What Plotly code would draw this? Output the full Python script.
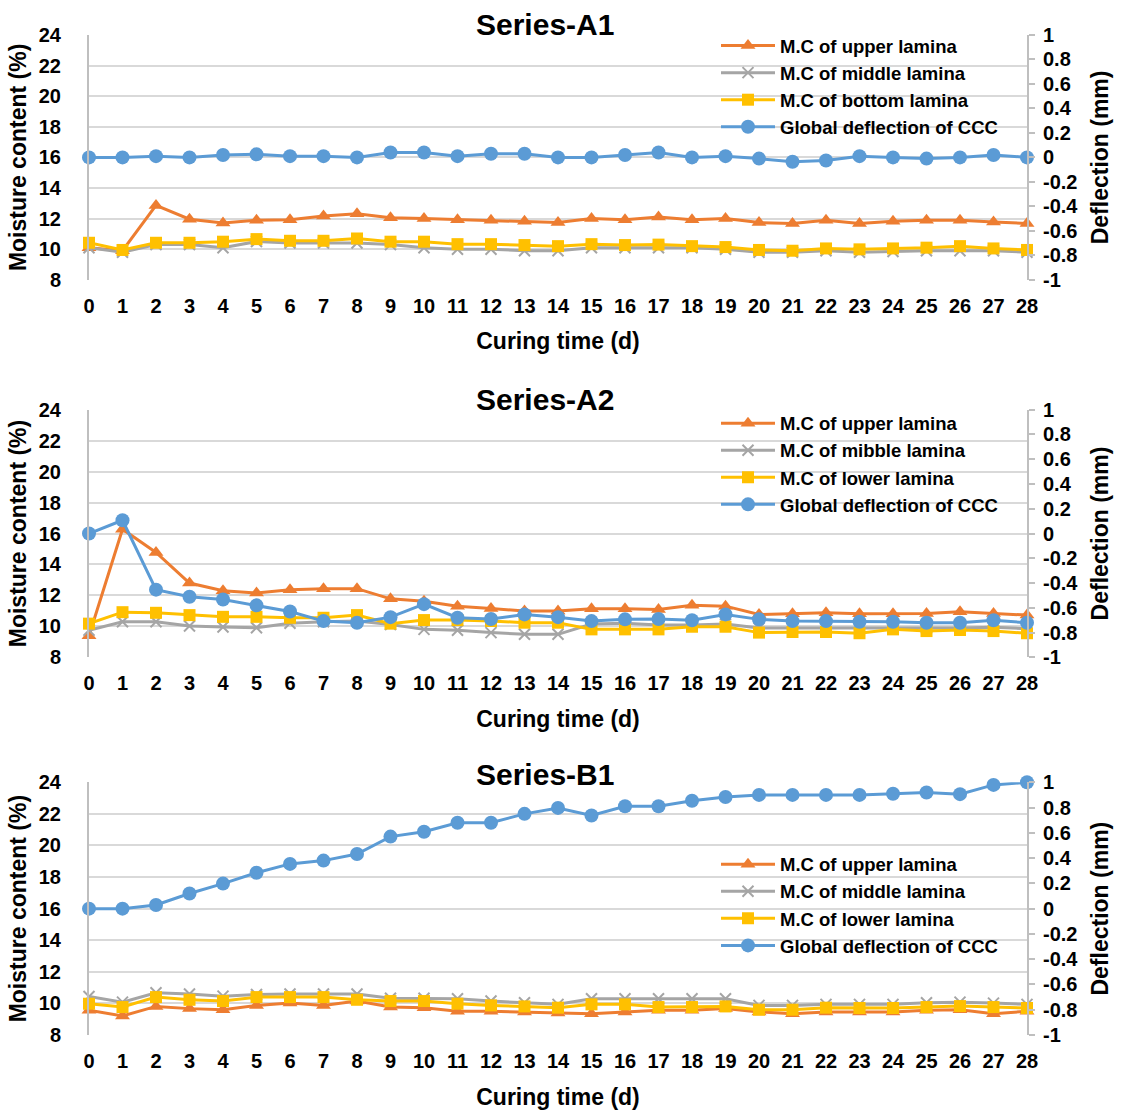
import plotly.graph_objects as go

days = list(range(29))
x_ticks = [str(d) for d in days]

# ---- Series-A1 ----
a1_upper = [10.1, 9.9, 12.86, 11.96, 11.72, 11.89, 11.93, 12.17, 12.32, 12.06, 12.0, 11.93, 11.89, 11.83, 11.74,
            12.0, 11.93, 12.1, 11.93, 12.0, 11.74, 11.68, 11.89, 11.68, 11.83, 11.89, 11.89, 11.78, 11.68]
a1_middle = [10.1, 9.8, 10.3, 10.3, 10.1, 10.5, 10.4, 10.4, 10.4, 10.3, 10.1, 10.0, 10.0, 9.9, 9.9,
             10.1, 10.1, 10.1, 10.1, 10.0, 9.8, 9.8, 9.9, 9.8, 9.85, 9.9, 9.9, 9.9, 9.8]
a1_bottom = [10.42, 9.95, 10.42, 10.42, 10.49, 10.66, 10.55, 10.55, 10.7, 10.49, 10.49, 10.33, 10.33, 10.27, 10.2,
             10.33, 10.27, 10.3, 10.2, 10.14, 9.95, 9.9, 10.05, 9.99, 10.05, 10.1, 10.2, 10.05, 9.95]
a1_defl = [0.0, 0.0, 0.01, 0.0, 0.02, 0.025, 0.01, 0.01, 0.0, 0.04, 0.04, 0.01, 0.03, 0.03, 0.0,
           0.0, 0.02, 0.04, 0.0, 0.01, -0.01, -0.035, -0.025, 0.01, 0.0, -0.01, 0.0, 0.02, 0.0]

# ---- Series-A2 ----
a2_upper = [9.4, 16.28, 14.78, 12.8, 12.31, 12.16, 12.37, 12.44, 12.44, 11.78, 11.63, 11.31, 11.16, 10.99, 10.99,
            11.14, 11.14, 11.09, 11.37, 11.31, 10.77, 10.82, 10.88, 10.82, 10.82, 10.84, 10.94, 10.84, 10.73]
a2_middle = [9.75, 10.3, 10.3, 10.03, 9.96, 9.92, 10.2, 10.3, 10.35, 10.13, 9.81, 9.75, 9.6, 9.49, 9.49,
             10.15, 10.2, 10.1, 10.1, 10.15, 9.9, 9.9, 9.9, 9.9, 9.9, 9.9, 9.9, 9.95, 9.85]
a2_lower = [10.18, 10.92, 10.88, 10.73, 10.62, 10.62, 10.56, 10.56, 10.73, 10.18, 10.41, 10.41, 10.35, 10.24, 10.24,
            9.81, 9.81, 9.81, 9.98, 9.98, 9.6, 9.64, 9.64, 9.56, 9.81, 9.7, 9.77, 9.7, 9.56]
a2_defl = [0.0, 0.107, -0.453, -0.51, -0.533, -0.58, -0.63, -0.707, -0.72, -0.675, -0.57, -0.68, -0.69, -0.653, -0.675,
           -0.707, -0.693, -0.69, -0.70, -0.653, -0.693, -0.707, -0.707, -0.712, -0.712, -0.72, -0.72, -0.70, -0.72]

# ---- Series-B1 ----
b1_upper = [9.56, 9.21, 9.81, 9.67, 9.6, 9.875, 10.02, 9.875, 10.15, 9.77, 9.73, 9.5, 9.5, 9.46, 9.4,
            9.35, 9.46, 9.56, 9.56, 9.67, 9.46, 9.35, 9.46, 9.46, 9.46, 9.56, 9.6, 9.35, 9.5]
b1_middle = [10.44, 10.08, 10.67, 10.6, 10.46, 10.56, 10.6, 10.6, 10.6, 10.33, 10.33, 10.29, 10.15, 10.04, 9.94,
             10.29, 10.29, 10.29, 10.29, 10.29, 9.875, 9.875, 9.94, 9.94, 9.94, 10.04, 10.08, 10.02, 9.94]
b1_lower = [9.98, 9.77, 10.4, 10.23, 10.15, 10.4, 10.4, 10.4, 10.23, 10.15, 10.15, 9.98, 9.875, 9.81, 9.73,
            9.94, 9.94, 9.77, 9.77, 9.81, 9.6, 9.6, 9.73, 9.71, 9.71, 9.77, 9.83, 9.77, 9.71]
b1_defl = [0.0, 0.0, 0.029, 0.12, 0.198, 0.284, 0.354, 0.38, 0.432, 0.57, 0.609, 0.68, 0.68, 0.75, 0.797,
           0.737, 0.81, 0.81, 0.854, 0.883, 0.90, 0.90, 0.90, 0.90, 0.909, 0.919, 0.906, 0.979, 1.0]

titles = ["Series-A1", "Series-A2", "Series-B1"]
legend_names = [
    ["M.C of upper lamina", "M.C of middle lamina", "M.C of bottom lamina", "Global deflection of CCC"],
    ["M.C of upper lamina", "M.C of mibble lamina", "M.C of lower lamina", "Global deflection of CCC"],
    ["M.C of upper lamina", "M.C of middle lamina", "M.C of lower lamina", "Global deflection of CCC"],
]
panels = [
    (a1_upper, a1_middle, a1_bottom, a1_defl),
    (a2_upper, a2_middle, a2_lower, a2_defl),
    (b1_upper, b1_middle, b1_lower, b1_defl),
]

left_ticks = list(range(8, 25, 2))
right_ticks = [-1, -0.8, -0.6, -0.4, -0.2, 0, 0.2, 0.4, 0.6, 0.8, 1]
right_labels = ["-1", "-0.8", "-0.6", "-0.4", "-0.2", "0", "0.2", "0.4", "0.6", "0.8", "1"]

ORANGE = "#ED7D31"
GRAY = "#A5A5A5"
YELLOW = "#FFC000"
BLUE = "#5B9BD5"
FONT = "Arial, Liberation Sans, sans-serif"

W, H = 1122, 1117
PL, PR, PT, PB = 89, 1027, 35, 1044
ML, MT = PL, PT
MR = W - PR
MB = H - PB
PW = PR - PL
PH = PB - PT

def py(pix):
    return 1 - (pix - PT) / PH

def px(pix):
    return (pix - PL) / PW

domains = [(py(282), py(35)), (py(663), py(413)), (py(1044), py(789))]
legend_tops = [27, 408, 853]
legend_ids = ["legend", "legend2", "legend3"]

fig = go.Figure()

for i, (up, mid, low, defl) in enumerate(panels):
    xa = "x" if i == 0 else f"x{i+1}"
    yl = "y" if i == 0 else f"y{2*i+1}"
    yr = f"y{2*i+2}"
    leg = legend_ids[i]
    names = legend_names[i]
    common = dict(x=days, mode="lines+markers", xaxis=xa, legend=leg, cliponaxis=False)
    fig.add_trace(go.Scatter(y=up, yaxis=yl, name=names[0], line=dict(color=ORANGE, width=3),
                             marker=dict(symbol="triangle-up", size=13, color=ORANGE), **common))
    fig.add_trace(go.Scatter(y=mid, yaxis=yl, name=names[1], line=dict(color=GRAY, width=3),
                             marker=dict(symbol="x-thin", size=11, color=GRAY, line=dict(color=GRAY, width=2)), **common))
    fig.add_trace(go.Scatter(y=low, yaxis=yl, name=names[2], line=dict(color=YELLOW, width=3),
                             marker=dict(symbol="square", size=12, color=YELLOW), **common))
    fig.add_trace(go.Scatter(y=defl, yaxis=yr, name=names[3], line=dict(color=BLUE, width=3),
                             marker=dict(symbol="circle", size=14, color=BLUE), **common))

    d = domains[i]
    xkey = "xaxis" if i == 0 else f"xaxis{i+1}"
    ylkey = "yaxis" if i == 0 else f"yaxis{2*i+1}"
    yrkey = f"yaxis{2*i+2}"
    fig.layout[xkey] = dict(
        domain=[0, 1], anchor=yl, range=[0, 28], tickmode="array", tickvals=days, ticktext=x_ticks,
        showgrid=False, zeroline=False, showline=False, ticks="",
        tickfont=dict(family=FONT, size=20, color="black", weight="bold"), ticklabelstandoff=12,
        title=dict(text="Curing time (d)", font=dict(family=FONT, size=23, color="black", weight="bold"), standoff=17),
    )
    fig.layout[ylkey] = dict(
        domain=list(d), anchor=xa, range=[8, 24], tickmode="array", tickvals=left_ticks,
        showgrid=True, gridcolor="#D9D9D9", gridwidth=1.5, zeroline=False,
        showline=True, linecolor="#BFBFBF", linewidth=2, ticks="",
        tickfont=dict(family=FONT, size=20, color="black", weight="bold"), ticklabelstandoff=22,
        title=dict(text="Moisture content (%)", font=dict(family=FONT, size=23, color="black", weight="bold"), standoff=6),
    )
    fig.layout[yrkey] = dict(
        domain=list(d), anchor=xa, overlaying=yl, side="right", range=[-1, 1], tickmode="array",
        tickvals=right_ticks, ticktext=right_labels, showgrid=False, zeroline=False,
        showline=True, linecolor="#BFBFBF", linewidth=2, ticks="outside", ticklen=6, tickcolor="#BFBFBF", tickwidth=2,
        tickfont=dict(family=FONT, size=20, color="black", weight="bold"), ticklabelstandoff=4,
        title=dict(text="Deflection (mm)", font=dict(family=FONT, size=23, color="black", weight="bold"), standoff=15),
    )
    fig.layout[leg] = dict(
        x=px(716), y=py(legend_tops[i]), xanchor="left", yanchor="top",
        bgcolor="rgba(0,0,0,0)", font=dict(family=FONT, size=18.5, color="black", weight="bold"),
        itemwidth=54, tracegroupgap=0,
    )
    fig.add_annotation(
        text=titles[i], xref="paper", yref="paper", x=px(545), y=py([24, 403, 781][i]),
        xanchor="center", yanchor="middle", showarrow=False,
        font=dict(family=FONT, size=30, color="black", weight="bold"),
    )

fig.update_layout(
    width=W, height=H, margin=dict(l=ML, r=MR, t=MT, b=MB),
    paper_bgcolor="white", plot_bgcolor="white", showlegend=True,
)

fig.write_html(
    "out.html",
    config={"displayModeBar": False},
    post_script="document.body.style.margin='0';document.body.style.overflow='hidden';",
)
